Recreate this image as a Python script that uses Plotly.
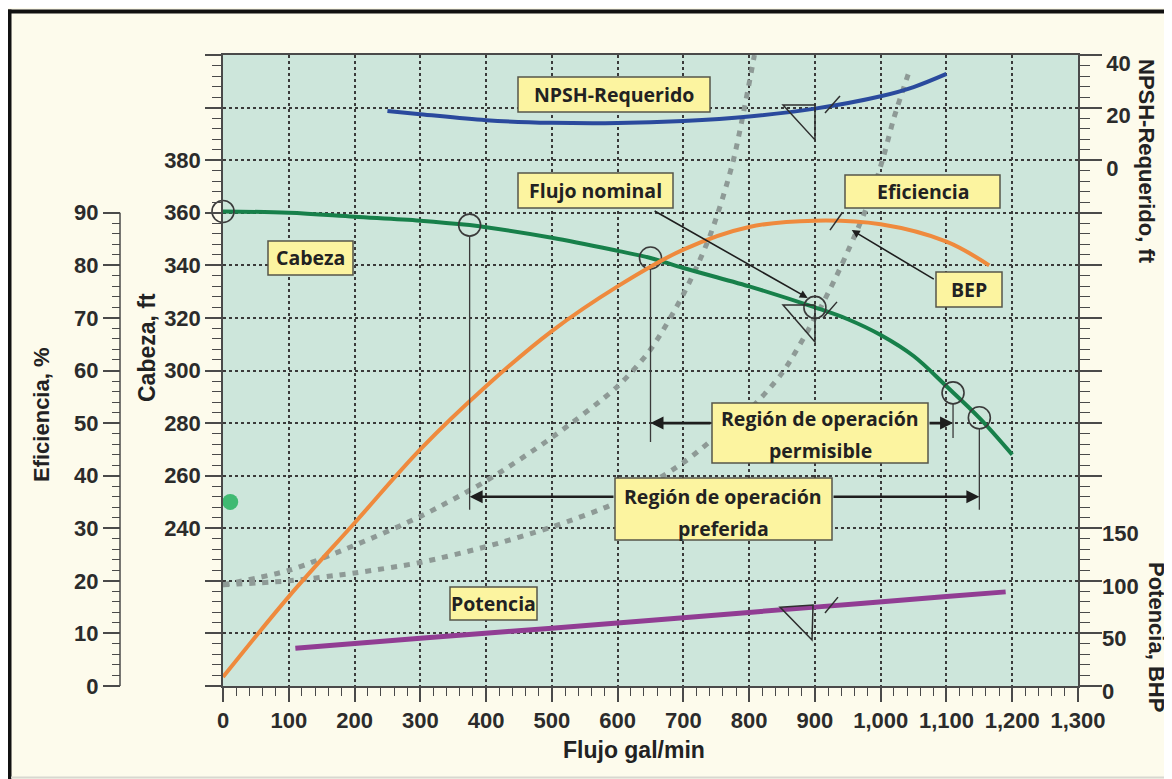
import plotly.graph_objects as go

W, H = 1172, 779
OFF = 8  # the page places the figure 8 px from the window's top-left corner

# ---------------- data ----------------
flow_ticks = [0, 100, 200, 300, 400, 500, 600, 700, 800, 900, 1000, 1100, 1200, 1300]
flow_tick_text = ["0", "100", "200", "300", "400", "500", "600", "700", "800", "900",
                  "1,000", "1,100", "1,200", "1,300"]

head_flow = [0, 100, 200, 300, 375, 400, 500, 600, 650, 700, 800, 900, 950, 1000, 1050, 1100, 1150, 1200]
head_ft = [360.5, 360, 358.5, 357, 355.3, 354.5, 350.5, 345.5, 342.8, 339, 332, 324, 319.5, 313.5, 305.5, 294, 282, 268]

eff_flow = [0, 100, 200, 300, 400, 500, 600, 700, 800, 900, 1000, 1100, 1165]
eff_pct = [1.7, 17, 31, 45, 57, 67.5, 76, 83, 87.3, 88.5, 87.8, 84.5, 80]

npsh_flow = [250, 300, 400, 500, 600, 700, 800, 900, 1000, 1050, 1100]
npsh_ft = [18.7, 17.5, 15.2, 14.2, 14.1, 14.9, 16.6, 19.6, 24.3, 27.8, 32.8]

power_flow = [110, 300, 500, 700, 900, 1100, 1190]
power_bhp = [36, 45.5, 55, 65, 75, 85, 89.5]

sys1_flow = [0, 100, 200, 300, 400, 500, 600, 650, 700, 740, 775, 808]
sys1_head = [218.5, 224, 233.5, 244.5, 258, 274.5, 294, 308, 329, 351, 379, 420]

sys2_flow = [0, 100, 200, 300, 400, 500, 600, 700, 760, 800, 850, 900, 930, 960, 985, 1005, 1020, 1045]
sys2_head = [218.5, 220, 223, 227, 233, 240.5, 250, 265, 277, 285, 299, 320, 334.5, 351, 366, 382, 396, 415]

op_flow = [0, 375, 650, 900, 1110, 1150]
op_head = [360.5, 355.3, 342.8, 324, 291.5, 282]

stray_flow = [11]
stray_eff = [35]

head_ticks = list(range(180, 421, 20))
head_tick_text = [str(v) if 240 <= v <= 380 else "" for v in head_ticks]
eff_ticks = list(range(0, 91, 10))
eff_minor = [v for v in range(2, 90, 2) if v % 10]
npsh_ticks = list(range(-200, 41, 20))
npsh_tick_text = [str(v) if v >= 0 else "" for v in npsh_ticks]
power_ticks = [0, 50, 100, 150]

# ---------------- layout geometry (window pixels) ----------------
PX_L, PX_R, PY_T, PY_B = 223, 1078, 55, 686


def px(x):
    return (x - OFF) / W


def py(y):
    return 1 - (y - OFF) / H


AX = "#4a4a4a"
TICKFONT = dict(family="Liberation Sans, Arial, sans-serif", size=22, color="#2b2b2b", weight="bold")

fig = go.Figure()

dot_style = dict(color="#8e9a96", width=5, dash="6px,7px")
fig.add_trace(go.Scatter(x=sys1_flow, y=sys1_head, mode="lines", line=dict(shape="spline", smoothing=0.8, **dot_style), yaxis="y"))
fig.add_trace(go.Scatter(x=sys2_flow, y=sys2_head, mode="lines", line=dict(shape="spline", smoothing=0.8, **dot_style), yaxis="y"))
fig.add_trace(go.Scatter(x=eff_flow, y=eff_pct, mode="lines", line=dict(color="#ef8a3d", width=4, shape="spline"), yaxis="y2"))
fig.add_trace(go.Scatter(x=head_flow, y=head_ft, mode="lines", line=dict(color="#17804a", width=4, shape="spline"), yaxis="y"))
fig.add_trace(go.Scatter(x=npsh_flow, y=npsh_ft, mode="lines", line=dict(color="#2a4a9d", width=4, shape="spline"), yaxis="y3"))
fig.add_trace(go.Scatter(x=power_flow, y=power_bhp, mode="lines", line=dict(color="#913d93", width=5, shape="spline"), yaxis="y4"))
fig.add_trace(go.Scatter(x=op_flow, y=op_head, mode="markers",
                         marker=dict(symbol="circle-open", size=22, color="#3a3a3a", line=dict(color="#3a3a3a", width=1.6)),
                         yaxis="y", cliponaxis=False))
fig.add_trace(go.Scatter(x=stray_flow, y=stray_eff, mode="markers",
                         marker=dict(size=16, color="#3fba72"), yaxis="y2", cliponaxis=False))

grid = dict(showgrid=True, gridcolor="#3a3a3a", gridwidth=1.5, griddash="dot")

fig.update_layout(
    template="none",
    width=W, height=H, autosize=False,
    margin=dict(l=0, r=0, t=0, b=0, pad=0, autoexpand=False),
    paper_bgcolor="#fdfbec", plot_bgcolor="#cde6db",
    showlegend=False, hovermode=False,
    xaxis=dict(domain=[px(PX_L), px(PX_R)], range=[0, 1300], anchor="y", automargin=False,
               showline=True, linecolor=AX, linewidth=1.5, mirror=True,
               ticks="outside", ticklen=14, tickwidth=1.5, tickcolor=AX,
               tickmode="array", tickvals=flow_ticks, ticktext=flow_tick_text,
               minor=dict(tickmode="linear", tick0=0, dtick=20, ticks="outside", ticklen=8, tickcolor=AX, tickwidth=1.2, showgrid=False),
               tickfont=TICKFONT, zeroline=False, **grid),
    yaxis=dict(domain=[py(PY_B), py(PY_T)], range=[180, 420], anchor="x", side="left", automargin=False,
               showline=True, linecolor=AX, linewidth=1.5,
               ticks="outside", ticklen=16, tickwidth=1.5, tickcolor=AX,
               tickmode="array", tickvals=head_ticks, ticktext=head_tick_text,
               minor=dict(tickmode="linear", tick0=180, dtick=4, ticks="outside", ticklen=9, tickcolor=AX, tickwidth=1.2, showgrid=False),
               tickfont=TICKFONT, zeroline=False, **grid),
    yaxis2=dict(overlaying="y", anchor="free", position=px(120), side="left", range=[0, 120], automargin=False,
                showline=False, showgrid=False, zeroline=False,
                ticks="outside", ticklen=17, tickwidth=1.5, tickcolor=AX,
                tickmode="array", tickvals=eff_ticks,
                minor=dict(tickmode="array", tickvals=eff_minor, ticks="outside", ticklen=8, tickcolor=AX, tickwidth=1.2, showgrid=False),
                tickfont=TICKFONT),
    yaxis3=dict(overlaying="y", anchor="x", side="right", range=[-200, 40], automargin=False,
                showline=True, linecolor=AX, linewidth=1.5, showgrid=False, zeroline=False,
                ticks="outside", ticklen=22, tickwidth=1.5, tickcolor=AX,
                tickmode="array", tickvals=npsh_ticks, ticktext=npsh_tick_text, ticklabelshift=8,
                minor=dict(tickmode="linear", tick0=-200, dtick=4, ticks="outside", ticklen=10, tickcolor=AX, tickwidth=1.2, showgrid=False),
                tickfont=TICKFONT),
    yaxis4=dict(overlaying="y", anchor="x", side="right", range=[0, 600], automargin=False,
                showline=False, showgrid=False, zeroline=False, ticks="",
                tickmode="array", tickvals=power_ticks, ticklabelstandoff=23, ticklabelshift=5,
                tickfont=TICKFONT),
)

shapes = []
# frame (left and top dark border, faint bottom line)
shapes.append(dict(type="line", xref="paper", yref="paper", x0=px(9.5), x1=px(9.5), y0=py(790), y1=py(9.5), line=dict(color="#111", width=4), layer="above"))
shapes.append(dict(type="line", xref="paper", yref="paper", x0=px(7.5), x1=px(1180), y0=py(11.5), y1=py(11.5), line=dict(color="#111", width=4), layer="above"))
shapes.append(dict(type="line", xref="paper", yref="paper", x0=px(11), x1=px(1180), y0=py(777.5), y1=py(777.5), line=dict(color="#d8d8d0", width=2), layer="above"))
# efficiency axis line (only 0..90)
shapes.append(dict(type="line", xref="paper", yref="y2", x0=px(120), x1=px(120), y0=0, y1=90, line=dict(color=AX, width=1.5)))

# vertical reference lines of operating regions
thin = dict(color="#3a3a3a", width=1.3)
shapes.append(dict(type="line", xref="x", yref="y", x0=375, x1=375, y0=351.1, y1=247, line=thin, layer="above"))
shapes.append(dict(type="line", xref="x", yref="y", x0=1150, x1=1150, y0=277.8, y1=247, line=thin, layer="above"))
shapes.append(dict(type="line", xref="x", yref="y", x0=650, x1=650, y0=338.6, y1=272.8, line=thin, layer="above"))
shapes.append(dict(type="line", xref="x", yref="y", x0=1110, x1=1110, y0=287.3, y1=274.3, line=thin, layer="above"))

# axis-reading marks (triangles and slashes)
mark = dict(color="#2f2f2f", width=1.5)
for path in [
    "M851.5,401 L900.1,401 L900.1,387.7 Z",
    "M851.5,324.9 L900.1,324.9 L900.1,310.8 Z",
    "M846.9,210 L897.1,210.8 L895.6,197.5 Z",
]:
    shapes.append(dict(type="path", xref="x", yref="y", path=path, line=mark, layer="above"))
for (x0, y0, x1, y1) in [(915.3, 397.9, 938.1, 404.4), (912.3, 320.0, 933.6, 326.1),
                         (915.3, 207.8, 935.1, 213.8), (922.9, 353.4, 941.2, 359.9)]:
    shapes.append(dict(type="line", xref="x", yref="y", x0=x0, y0=y0, x1=x1, y1=y1, line=mark, layer="above"))

# label boxes (window pixels: left, top, right, bottom)
boxes = {
    "npsh": (518, 77, 710, 112),
    "nominal": (518, 173, 673, 208),
    "eff": (845, 175, 1000, 208),
    "bep": (936, 272, 1002, 307),
    "cabeza": (268, 241, 353, 275),
    "perm": (712, 403, 928, 463),
    "pref": (615, 478, 832, 540),
    "pot": (450, 587, 537, 620),
}
for b in boxes.values():
    shapes.append(dict(type="rect", xref="paper", yref="paper", x0=px(b[0]), x1=px(b[2]), y0=py(b[3]), y1=py(b[1]),
                       fillcolor="#fcf4a0", line=dict(color="#55554a", width=1.5), layer="above"))

fig.update_layout(shapes=shapes)

ann = []
arrow_w = dict(arrowcolor="#1e1e1e", arrowhead=2, arrowsize=1, showarrow=True, text="", standoff=0, startstandoff=0)
# arrows (tip, tail) in data coords
for (tx, ty, ax_, ay_, w) in [
    (375, 252, 596, 252, 2.6), (1150, 252, 926, 252, 2.6),
    (650, 280, 743.5, 280, 2.6), (1110, 280, 1072, 280, 2.6),
    (889, 327.6, 654, 361, 1.6), (956, 353.4, 1083, 334.4, 1.6),
]:
    ann.append(dict(x=tx, y=ty, xref="x", yref="y", ax=ax_, ay=ay_, axref="x", ayref="y", arrowwidth=w, **arrow_w))

BOXFONT = dict(family="Open Sans, Noto Sans, sans-serif", size=19.5, color="#222", weight="bold")
for (txt, cx, cy) in [
    ("NPSH-Requerido", 614, 94.5), ("Flujo nominal", 595.5, 190.5), ("Eficiencia", 922.5, 191.5),
    ("BEP", 969, 289.5), ("Cabeza", 310.5, 258), ("Región de operación", 820, 418), ("permisible", 820, 450),
    ("Región de operación", 723.5, 497), ("preferida", 723.5, 528), ("Potencia", 493.5, 603.5),
]:
    ann.append(dict(x=px(cx), y=py(cy), xref="paper", yref="paper", text=txt, showarrow=False,
                    xanchor="center", yanchor="middle", font=BOXFONT))

TITLEFONT = dict(family="Liberation Sans, Arial, sans-serif", size=22, color="#222", weight="bold")
for (txt, cx, cy, ang, sz) in [
    ("Flujo gal/min", 634, 750, 0, 23),
    ("Eficiencia, %", 42, 415, -90, 22),
    ("Cabeza, ft", 147, 348, -90, 23),
    ("NPSH-Requerido, ft", 1147, 161, 90, 22),
    ("Potencia, BHP", 1157, 637, 90, 22),
]:
    f = dict(TITLEFONT)
    f["size"] = sz
    ann.append(dict(x=px(cx), y=py(cy), xref="paper", yref="paper", text=txt, showarrow=False,
                    textangle=ang, xanchor="center", yanchor="middle", font=f))

fig.update_layout(annotations=ann)

fig.write_html("out.html")
